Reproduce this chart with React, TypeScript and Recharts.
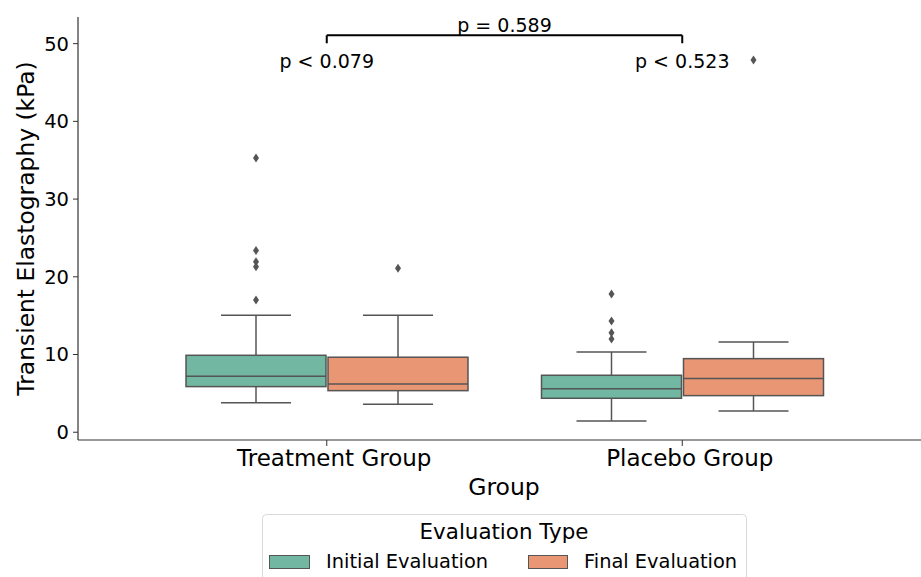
import { Bar, ComposedChart, ReferenceDot, ReferenceLine, XAxis, YAxis } from "recharts";

const groups = ["Treatment Group", "Placebo Group"];
const yTicks = [0, 10, 20, 30, 40, 50];

// box stats
const initialLow = [3.8, 1.45];
const initialQ1 = [5.87, 4.37];
const initialMedian = [7.2, 5.6];
const initialQ3 = [9.9, 7.33];
const initialHigh = [15.05, 10.33];
const initialOutliers = [
  [35.3, 23.4, 21.95, 21.3, 17.0],
  [17.8, 14.3, 12.8, 12.0],
];

const finalLow = [3.6, 2.74];
const finalQ1 = [5.35, 4.71];
const finalMedian = [6.2, 6.9];
const finalQ3 = [9.65, 9.47];
const finalHigh = [15.05, 11.62];
const finalOutliers = [[21.1], [47.9]];

const groupP = ["p < 0.079", "p < 0.523"];
const betweenP = "p = 0.589";

const GREEN = "#71b7a1";
const ORANGE = "#e99675";
const LINE = "#555555";
const FONT = "DejaVu Sans, sans-serif";

const rows = groups.map((g, i) => ({
  group: g,
  initial: { lo: initialLow[i], q1: initialQ1[i], med: initialMedian[i], q3: initialQ3[i], hi: initialHigh[i], out: initialOutliers[i] },
  final: { lo: finalLow[i], q1: finalQ1[i], med: finalMedian[i], q3: finalQ3[i], hi: finalHigh[i], out: finalOutliers[i] },
}));

const renderBox = (props: any, key: "initial" | "final", fill: string) => {
  const { x, y, width, height, payload } = props;
  const s = payload[key];
  const top = Math.min(y, y + height);
  const bottom = Math.max(y, y + height);
  const k = (bottom - top) / (s.q3 - s.q1);
  const py = (v: number) => top + (s.q3 - v) * k;
  const cx = x + width / 2;
  const cap = width / 4;
  return (
    <g>
      <line x1={cx} x2={cx} y1={py(s.q3)} y2={py(s.hi)} stroke={LINE} strokeWidth={1.5} />
      <line x1={cx} x2={cx} y1={py(s.q1)} y2={py(s.lo)} stroke={LINE} strokeWidth={1.5} />
      <line x1={cx - cap} x2={cx + cap} y1={py(s.hi)} y2={py(s.hi)} stroke={LINE} strokeWidth={1.5} />
      <line x1={cx - cap} x2={cx + cap} y1={py(s.lo)} y2={py(s.lo)} stroke={LINE} strokeWidth={1.5} />
      <rect x={x} y={top} width={width} height={bottom - top} fill={fill} stroke={LINE} strokeWidth={1.5} />
      <line x1={x} x2={x + width} y1={py(s.med)} y2={py(s.med)} stroke={LINE} strokeWidth={1.5} />
      {s.out.map((v: number, j: number) => {
        const oy = py(v);
        return (
          <path
            key={j}
            d={`M${cx},${oy - 4.5}L${cx + 3},${oy}L${cx},${oy + 4.5}L${cx - 3},${oy}Z`}
            fill={LINE}
          />
        );
      })}
    </g>
  );
};

const GroupTick = (p: any) => (
  <text x={p.x + 7.5} y={p.y + 4} dy="0.71em" textAnchor="middle" fontSize={23} fontFamily={FONT} fill="#000">
    {p.payload.value}
  </text>
);

const App = () => {
  return (
    <div style={{ position: "absolute", left: 0, top: 0, width: 921, height: 577, overflow: "hidden", background: "#fff", fontFamily: FONT }}>
      <ComposedChart
        width={930}
        height={577}
        data={rows}
        margin={{ top: 17, right: 0, left: 0, bottom: 77 }}
        barGap={2}
      >
        <XAxis
          dataKey="group"
          type="category"
          padding={{ left: 71, right: 70 }}
          height={60}
          tickSize={6}
          tickMargin={0}
          tick={<GroupTick />}
          axisLine={{ stroke: "#333", strokeWidth: 1.2 }}
          tickLine={{ stroke: "#333" }}
          label={{
            content: (p: any) => (
              <text
                x={p.viewBox.x + p.viewBox.width / 2}
                y={p.viewBox.y + 55}
                textAnchor="middle"
                fontSize={23.5}
                fontFamily={FONT}
                fill="#000"
              >
                Group
              </text>
            ),
          }}
        />
        <YAxis
          type="number"
          width={78}
          domain={[-1, 53.43]}
          allowDataOverflow
          ticks={yTicks}
          tickSize={5}
          tickMargin={4}
          tick={{ fontSize: 19.5, fill: "#000", fontFamily: FONT }}
          axisLine={{ stroke: "#333", strokeWidth: 1.2 }}
          tickLine={{ stroke: "#333" }}
          label={{
            content: (p: any) => {
              const cx = 34;
              const cy = p.viewBox.y + p.viewBox.height / 2;
              return (
                <text
                  x={cx}
                  y={cy}
                  transform={`rotate(-90, ${cx}, ${cy})`}
                  textAnchor="middle"
                  fontSize={23.4}
                  fontFamily={FONT}
                  fill="#000"
                >
                  Transient Elastography (kPa)
                </text>
              );
            },
          }}
        />
        <Bar
          dataKey={(r: any) => [r.initial.q1, r.initial.q3]}
          barSize={140}
          fill={GREEN}
          isAnimationActive={false}
          shape={(p: any) => renderBox(p, "initial", GREEN)}
        />
        <Bar
          dataKey={(r: any) => [r.final.q1, r.final.q3]}
          barSize={140}
          fill={ORANGE}
          isAnimationActive={false}
          shape={(p: any) => renderBox(p, "final", ORANGE)}
        />
        <ReferenceLine
          segment={[
            { x: groups[0], y: 51.08 },
            { x: groups[1], y: 51.08 },
          ]}
          stroke="#000"
          strokeWidth={2}
          ifOverflow="visible"
          label={{ value: betweenP, position: "top", offset: 3, fontSize: 19, fill: "#000", fontFamily: FONT }}
        />
        {groups.map((g) => (
          <ReferenceLine
            key={`tick-${g}`}
            segment={[
              { x: g, y: 51.08 },
              { x: g, y: 50.05 },
            ]}
            stroke="#000"
            strokeWidth={2}
            ifOverflow="visible"
          />
        ))}
        {groups.map((g, i) => (
          <ReferenceDot
            key={`p-${g}`}
            x={g}
            y={47.68}
            r={0}
            fill="none"
            stroke="none"
            ifOverflow="visible"
            label={{ value: groupP[i], position: "center", fontSize: 19, fill: "#000", fontFamily: FONT }}
          />
        ))}
      </ComposedChart>
      <svg width={921} height={577} style={{ position: "absolute", left: 0, top: 0, pointerEvents: "none" }}>
        <rect x={262.5} y={514.5} width={484} height={90} rx={4} fill="#fff" fillOpacity={0.8} stroke="#d9d9d9" />
        <text x={504} y={539} textAnchor="middle" fontSize={21.4} fontFamily={FONT} fill="#000">
          Evaluation Type
        </text>
        <rect x={269.5} y={555.5} width={40} height={13} fill={GREEN} stroke={LINE} strokeWidth={1} />
        <text x={326} y={568} fontSize={19.4} fontFamily={FONT} fill="#000">
          Initial Evaluation
        </text>
        <rect x={528.5} y={555.5} width={39} height={13} fill={ORANGE} stroke={LINE} strokeWidth={1} />
        <text x={584} y={568} fontSize={19.4} fontFamily={FONT} fill="#000">
          Final Evaluation
        </text>
      </svg>
    </div>
  );
};

export default App;
